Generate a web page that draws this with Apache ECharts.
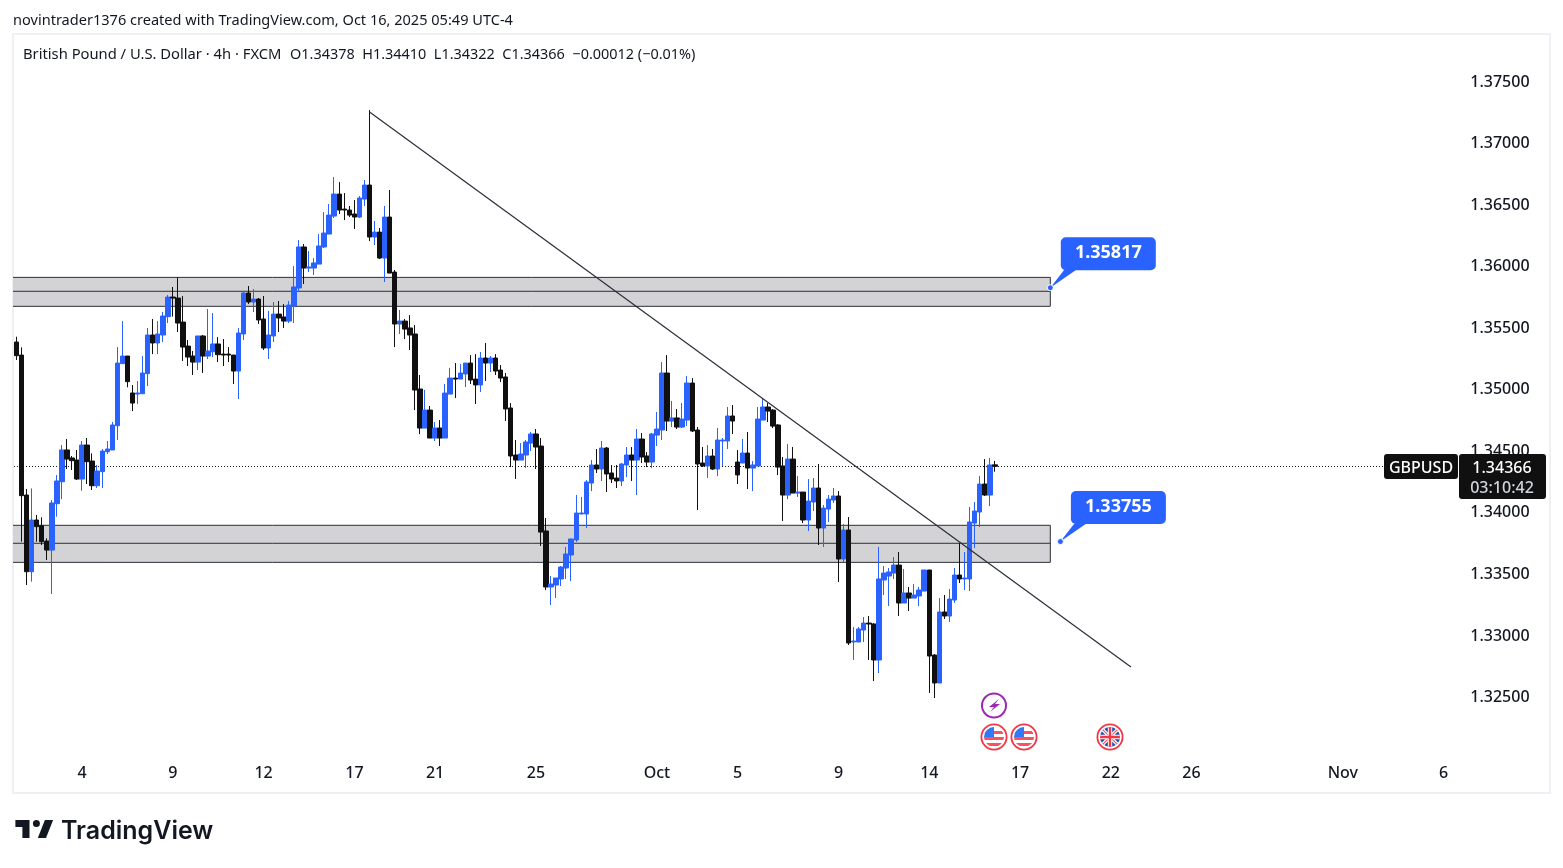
<!DOCTYPE html>
<html lang="en">
<head>
<meta charset="utf-8">
<title>GBPUSD 4h</title>
<script src="https://cdn.jsdelivr.net/npm/echarts@6/dist/echarts.min.js"></script>
<style>
html, body { margin: 0; padding: 0; background: #fff; }
#chart { width: 1563px; height: 868px; }
</style>
</head>
<body>
<div id="chart"></div>
<script>
// 4h candles
var opens = [
1.35376,1.35270,1.34133,1.33510,1.33930,1.33884,1.33759,1.33686,1.34063,1.34241,
1.34499,1.34434,1.34417,1.34263,1.34539,1.34409,1.34209,1.34323,1.34485,1.34499,
1.34696,1.35200,1.35262,1.34962,1.34953,1.34956,1.35119,1.35433,1.35368,1.35433,
1.35582,1.35741,1.35733,1.35538,1.35343,1.35262,1.35213,1.35425,1.35262,1.35297,
1.35360,1.35278,1.35278,1.35270,1.35140,1.35441,1.35774,1.35701,1.35725,1.35563,
1.35327,1.35425,1.35603,1.35579,1.35546,1.35668,1.35815,1.36148,1.35977,1.35977,
1.36009,1.36148,1.36253,1.36399,1.36578,1.36456,1.36448,1.36416,1.36391,1.36537,
1.36651,1.36229,1.36269,1.36058,1.36391,1.35944,1.35522,1.35546,1.35490,1.35441,
1.34994,1.34677,1.34823,1.34596,1.34677,1.34596,1.34953,1.35083,1.35075,1.35116,
1.35205,1.35075,1.35027,1.35246,1.35205,1.35246,1.35148,1.35092,1.34840,1.34458,
1.34417,1.34458,1.34555,1.34629,1.34531,1.33841,1.33386,1.33402,1.33451,1.33540,
1.33646,1.33768,1.33979,1.33979,1.34230,1.34377,1.34344,1.34515,1.34312,1.34271,
1.34247,1.34377,1.34458,1.34417,1.34588,1.34450,1.34401,1.34620,1.34661,1.35124,
1.34734,1.34759,1.34685,1.34742,1.35043,1.34661,1.34393,1.34369,1.34450,1.34344,
1.34572,1.34572,1.34775,1.34401,1.34393,1.34474,1.34352,1.34369,1.34742,1.34848,
1.34823,1.34702,1.34369,1.34133,1.34425,1.34149,1.34157,1.33930,1.34076,1.34190,
1.33865,1.34019,1.34092,1.34125,1.33613,1.33849,1.32939,1.32939,1.33036,1.33093,
1.33085,1.32793,1.33443,1.33475,1.33499,1.33564,1.33256,1.33337,1.33296,1.33313,
1.33353,1.33524,1.32833,1.32606,1.33183,1.33150,1.33280,1.33483,1.33451,1.33451,
1.33905,1.33995,1.34222,1.34133,1.34378];
var closes = [
1.35265,1.34128,1.33510,1.33930,1.33876,1.33754,1.33686,1.34068,1.34247,1.34499,
1.34425,1.34412,1.34263,1.34539,1.34404,1.34209,1.34328,1.34490,1.34507,1.34702,
1.35205,1.35262,1.35054,1.34880,1.34962,1.35124,1.35433,1.35368,1.35441,1.35587,
1.35741,1.35733,1.35530,1.35335,1.35254,1.35213,1.35425,1.35262,1.35303,1.35360,
1.35273,1.35270,1.35270,1.35140,1.35449,1.35774,1.35701,1.35725,1.35555,1.35327,
1.35433,1.35603,1.35571,1.35546,1.35676,1.35823,1.36148,1.35977,1.35985,1.36018,
1.36156,1.36261,1.36407,1.36578,1.36448,1.36448,1.36407,1.36391,1.36546,1.36651,
1.36229,1.36269,1.36058,1.36391,1.35936,1.35522,1.35546,1.35481,1.35433,1.34986,
1.34677,1.34823,1.34596,1.34677,1.34596,1.34961,1.35083,1.35075,1.35124,1.35205,
1.35067,1.35027,1.35246,1.35205,1.35246,1.35140,1.35083,1.34832,1.34450,1.34417,
1.34466,1.34564,1.34629,1.34523,1.33832,1.33386,1.33410,1.33459,1.33548,1.33654,
1.33776,1.33987,1.33987,1.34239,1.34377,1.34344,1.34515,1.34304,1.34263,1.34247,
1.34385,1.34458,1.34417,1.34588,1.34442,1.34401,1.34629,1.34669,1.35124,1.34734,
1.34759,1.34685,1.34750,1.35043,1.34653,1.34385,1.34369,1.34450,1.34344,1.34580,
1.34580,1.34775,1.34734,1.34296,1.34474,1.34352,1.34377,1.34750,1.34848,1.34815,
1.34693,1.34360,1.34133,1.34425,1.34149,1.34157,1.33930,1.34084,1.34190,1.33865,
1.34027,1.34100,1.34125,1.33613,1.33849,1.32931,1.32947,1.33045,1.33093,1.33085,
1.32793,1.33451,1.33499,1.33508,1.33564,1.33256,1.33337,1.33296,1.33321,1.33361,
1.33524,1.32825,1.32606,1.33183,1.33150,1.33288,1.33483,1.33451,1.33459,1.33914,
1.34003,1.34222,1.34133,1.34377,1.34366];
var lows = [
1.35230,1.33754,1.33402,1.33429,1.33754,1.33727,1.33605,1.33329,1.33957,1.34100,
1.34344,1.34336,1.34255,1.34168,1.34222,1.34174,1.34190,1.34190,1.34466,1.34499,
1.34580,1.35200,1.35008,1.34815,1.34872,1.34953,1.35018,1.35278,1.35278,1.35376,
1.35530,1.35582,1.35457,1.35222,1.35181,1.35108,1.35148,1.35124,1.35238,1.35254,
1.35213,1.35181,1.35213,1.35035,1.34913,1.35392,1.35685,1.35620,1.35522,1.35311,
1.35238,1.35376,1.35457,1.35490,1.35530,1.35530,1.35782,1.35847,1.35944,1.35920,
1.36009,1.36139,1.36253,1.36383,1.36416,1.36367,1.36391,1.36294,1.36383,1.36481,
1.36196,1.36164,1.36050,1.35863,1.35936,1.35335,1.35441,1.35400,1.35311,1.34823,
1.34628,1.34677,1.34596,1.34572,1.34531,1.34596,1.34953,1.34921,1.35075,1.35010,
1.35035,1.34872,1.34970,1.35059,1.35132,1.35108,1.35051,1.34734,1.34360,1.34263,
1.34417,1.34352,1.34490,1.34344,1.33719,1.33361,1.33240,1.33296,1.33394,1.33451,
1.33434,1.33751,1.33979,1.33865,1.34165,1.34312,1.34247,1.34157,1.34230,1.34190,
1.34206,1.34279,1.34247,1.34133,1.34393,1.34360,1.34352,1.34531,1.34580,1.34653,
1.34685,1.34669,1.34677,1.34694,1.34645,1.34011,1.34360,1.34271,1.34336,1.34287,
1.34369,1.34507,1.34629,1.34222,1.34393,1.34182,1.34165,1.34369,1.34742,1.34726,
1.34677,1.34295,1.33922,1.34100,1.34149,1.34117,1.33905,1.33841,1.34003,1.33727,
1.33711,1.33914,1.34068,1.33426,1.33589,1.32915,1.32793,1.32939,1.32939,1.32793,
1.32622,1.32687,1.33321,1.33231,1.33451,1.33150,1.33256,1.33191,1.33296,1.33231,
1.33353,1.32525,1.32484,1.32606,1.33126,1.33101,1.33256,1.33418,1.33361,1.33353,
1.33702,1.33873,1.34125,1.34044,1.34322];
var highs = [
1.35419,1.35333,1.34182,1.34187,1.33971,1.33952,1.33781,1.34092,1.34295,1.34539,
1.34588,1.34450,1.34499,1.34572,1.34596,1.34471,1.34377,1.34507,1.34572,1.34726,
1.35335,1.35546,1.35262,1.35027,1.35059,1.35262,1.35490,1.35563,1.35546,1.35620,
1.35758,1.35823,1.35901,1.35749,1.35392,1.35303,1.35425,1.35433,1.35644,1.35611,
1.35416,1.35400,1.35335,1.35270,1.35490,1.35790,1.35831,1.35806,1.35733,1.35750,
1.35628,1.35701,1.35709,1.35684,1.35709,1.35993,1.36204,1.36172,1.36115,1.36058,
1.36253,1.36432,1.36497,1.36716,1.36675,1.36586,1.36481,1.36529,1.36562,1.36692,
1.37260,1.36359,1.36302,1.36481,1.36611,1.35961,1.35636,1.35563,1.35595,1.35514,
1.35108,1.34986,1.34856,1.34726,1.34742,1.35035,1.35165,1.35205,1.35197,1.35205,
1.35270,1.35278,1.35295,1.35368,1.35262,1.35278,1.35189,1.35124,1.34880,1.34580,
1.34555,1.34580,1.34645,1.34669,1.34596,1.33946,1.33475,1.33459,1.33556,1.33711,
1.33776,1.34133,1.34117,1.34255,1.34417,1.34507,1.34572,1.34523,1.34377,1.34377,
1.34393,1.34523,1.34523,1.34669,1.34637,1.34482,1.34637,1.34807,1.35213,1.35270,
1.34897,1.34832,1.34880,1.35100,1.35083,1.34685,1.34523,1.34539,1.34507,1.34677,
1.34596,1.34848,1.34864,1.34499,1.34588,1.34645,1.34409,1.34848,1.34913,1.34880,
1.34832,1.34710,1.34442,1.34547,1.34523,1.34287,1.34157,1.34263,1.34271,1.34385,
1.34052,1.34133,1.34190,1.34165,1.33897,1.33954,1.33061,1.33061,1.33142,1.33150,
1.33093,1.33711,1.33556,1.33540,1.33629,1.33670,1.33532,1.33386,1.33410,1.33386,
1.33524,1.33524,1.32841,1.33296,1.33321,1.33369,1.33540,1.33743,1.33670,1.34036,
1.34076,1.34287,1.34425,1.34434,1.34410];

// x axis: bar slots, with the date labels at their bar positions
var barSlots = 287;
var tickBars = [13, 31, 49, 67, 83, 103, 127, 143, 163, 181, 199, 217, 233, 263, 283];
var tickLabels = ['4', '9', '12', '17', '21', '25', 'Oct', '5', '9', '14', '17', '22', '26', 'Nov', '6'];

var lastPrice = 1.34366;

// drawn on the chart
var zoneTops = [1.35901, 1.33887];
var zoneMids = [1.35788, 1.33741];
var zoneBottoms = [1.35666, 1.33586];
var zoneEndBar = 205;

var trendBars = [70, 221];
var trendPrices = [1.37244, 1.32736];

var calloutBars = [205, 207];
var calloutPrices = [1.35817, 1.33755];
var calloutTexts = ['1.35817', '1.33755'];

var BLUE = '#2962ff';
var BLACK = '#101010';
var TEXT = '#131722';
var FONT = '"Noto Sans", sans-serif';

var categories = [];
for (var i = 0; i < barSlots; i++) {
    var t = tickBars.indexOf(i);
    categories.push(t >= 0 ? tickLabels[t] : '');
}

var candles = opens.map(function (o, i) {
    return [o, closes[i], lows[i], highs[i]];
});

function usFlag() {
    return 'data:image/svg+xml,' + encodeURIComponent(
        '<svg xmlns="http://www.w3.org/2000/svg" width="56" height="56" viewBox="0 0 28 28">' +
        '<defs><clipPath id="c"><circle cx="14" cy="14" r="10"/></clipPath></defs>' +
        '<circle cx="14" cy="14" r="12.6" fill="#fff" stroke="#f23645" stroke-width="1.8"/>' +
        '<g clip-path="url(#c)"><rect x="2" y="2" width="24" height="24" fill="#fff"/>' +
        '<rect x="2" y="8" width="24" height="3" fill="#f7525f"/>' +
        '<rect x="2" y="14" width="24" height="3" fill="#f7525f"/>' +
        '<rect x="2" y="20" width="24" height="3" fill="#f7525f"/>' +
        '<rect x="2" y="2" width="12" height="12" fill="#3179f5"/></g></svg>');
}

function ukFlag() {
    return 'data:image/svg+xml,' + encodeURIComponent(
        '<svg xmlns="http://www.w3.org/2000/svg" width="56" height="56" viewBox="0 0 28 28">' +
        '<defs><clipPath id="c"><circle cx="14" cy="14" r="10"/></clipPath></defs>' +
        '<circle cx="14" cy="14" r="12.6" fill="#fff" stroke="#f23645" stroke-width="1.8"/>' +
        '<g clip-path="url(#c)"><rect x="2" y="2" width="24" height="24" fill="#1e53a8"/>' +
        '<path d="M3 3L25 25M25 3L3 25" stroke="#fff" stroke-width="3.4"/>' +
        '<path d="M3 3L25 25M25 3L3 25" stroke="#f7525f" stroke-width="1.2"/>' +
        '<path d="M14 2V26M2 14H26" stroke="#fff" stroke-width="4.4"/>' +
        '<path d="M14 2V26M2 14H26" stroke="#f23645" stroke-width="2.4"/></g></svg>');
}

function icon(src, cx, cy) {
    return { type: 'image', z: 90, style: { image: src, x: cx - 14, y: cy - 14, width: 28, height: 28 } };
}

function label(x, y, text, font, fill, align) {
    return {
        type: 'text', z: 110, x: x, y: y,
        style: { text: text, font: font, fill: fill, align: align || 'left', verticalAlign: 'middle' }
    };
}

var chart = echarts.init(document.getElementById('chart'));

chart.setOption({
    animation: false,
    backgroundColor: '#fff',
    grid: { left: 14, top: 19, width: 1447.3, height: 738.6, containLabel: false },
    xAxis: {
        type: 'category',
        data: categories,
        boundaryGap: true,
        axisLine: { show: false },
        axisTick: { show: false },
        splitLine: { show: false },
        axisLabel: {
            interval: 0,
            hideOverlap: false,
            margin: 6,
            color: TEXT,
            fontFamily: FONT,
            fontSize: 16,
            fontWeight: 500,
            lineHeight: 20
        }
    },
    yAxis: {
        type: 'value',
        position: 'right',
        min: 1.32,
        max: 1.38,
        interval: 0.005,
        axisLine: { show: false },
        axisTick: { show: false },
        splitLine: { show: false },
        axisLabel: {
            margin: 9,
            showMinLabel: false,
            showMaxLabel: false,
            formatter: function (v) { return '{p|' + v.toFixed(5) + '}'; },
            rich: {
                p: {
                    padding: [3, 0, 0, 0],
                    color: TEXT,
                    fontFamily: FONT,
                    fontSize: 16,
                    fontWeight: 500
                }
            }
        }
    },
    series: [
        {
            name: 'zones',
            type: 'custom',
            z: 1,
            silent: true,
            clip: false,
            encode: { x: 0, y: 1 },
            data: zoneTops.map(function (top, i) {
                return [zoneEndBar, top, zoneMids[i], zoneBottoms[i]];
            }),
            renderItem: function (params, api) {
                var right = api.coord([api.value(0), api.value(1)])[0];
                var left = params.coordSys.x - 1;
                var top = api.coord([0, api.value(1)])[1];
                var mid = api.coord([0, api.value(2)])[1];
                var bottom = api.coord([0, api.value(3)])[1];
                var line = { stroke: '#2a2e39', lineWidth: 1 };
                return {
                    type: 'group',
                    children: [
                        { type: 'rect', shape: { x: left, y: top, width: right - left, height: bottom - top },
                          style: { fill: '#d3d3d6' } },
                        { type: 'line', shape: { x1: left, y1: top, x2: right, y2: top }, style: line },
                        { type: 'line', shape: { x1: left, y1: mid, x2: right, y2: mid }, style: line },
                        { type: 'line', shape: { x1: left, y1: bottom, x2: right, y2: bottom }, style: line },
                        { type: 'line', shape: { x1: right, y1: top, x2: right, y2: bottom }, style: line }
                    ]
                };
            }
        },
        {
            name: 'last',
            type: 'custom',
            z: 1,
            silent: true,
            clip: false,
            encode: { x: 0, y: 1 },
            data: [[0, lastPrice]],
            renderItem: function (params, api) {
                // snap to a pixel row so the dots stay crisp
                var y = Math.floor(api.coord([0, api.value(1)])[1]) + 0.5;
                var grid = params.coordSys;
                return { type: 'line', shape: { x1: grid.x, y1: y, x2: grid.x + grid.width, y2: y },
                         style: { stroke: '#131722', lineWidth: 1, lineDash: [1, 2] } };
            }
        },
        {
            name: 'GBPUSD',
            type: 'candlestick',
            z: 2,
            barWidth: 5,
            silent: true,
            itemStyle: {
                color: BLUE,
                color0: BLACK,
                borderColor: BLUE,
                borderColor0: BLACK,
                borderWidth: 1
            },
            data: candles
        },
        {
            name: 'trend',
            type: 'line',
            z: 3,
            silent: true,
            symbol: 'none',
            lineStyle: { color: '#2a2e39', width: 1.2 },
            data: trendBars.map(function (b, i) { return [b, trendPrices[i]]; })
        },
        {
            name: 'callouts',
            type: 'custom',
            z: 4,
            silent: true,
            clip: false,
            encode: { x: 0, y: 1 },
            data: calloutBars.map(function (b, i) { return [b, calloutPrices[i]]; }),
            renderItem: function (params, api) {
                var p = api.coord([api.value(0), api.value(1)]);
                var x = p[0], y = p[1];
                return {
                    type: 'group',
                    children: [
                        { type: 'polygon', shape: { points: [[x, y], [x + 14, y - 18], [x + 26, y - 18]] },
                          style: { fill: BLUE } },
                        { type: 'rect', shape: { x: x + 10.5, y: y - 50.5, width: 95, height: 33, r: 5 },
                          style: { fill: BLUE } },
                        { type: 'circle', shape: { cx: x, cy: y, r: 3 },
                          style: { fill: BLUE, stroke: '#fff', lineWidth: 1 } },
                        { type: 'text', x: x + 58, y: y - 34.5,
                          style: { text: calloutTexts[params.dataIndex], fill: '#fff', align: 'center', verticalAlign: 'middle',
                                   font: '700 18px ' + FONT } }
                    ]
                };
            }
        }
    ],
    graphic: [
        { type: 'rect', z: 0, shape: { x: 13, y: 34, width: 1537, height: 759 },
          style: { fill: 'none', stroke: '#eef0f4', lineWidth: 2 } },
        label(13, 21, 'novintrader1376 created with TradingView.com, Oct 16, 2025 05:49 UTC-4', '14.55px ' + FONT, TEXT),
        label(23, 55, 'British Pound / U.S. Dollar \u00b7 4h \u00b7 FXCM', '14.75px ' + FONT, TEXT),
        label(290, 55, 'O1.34378  H1.34410  L1.34322  C1.34366  \u22120.00012 (\u22120.01%)', '14.45px ' + FONT, TEXT),

        // last price tags
        { type: 'rect', z: 100, shape: { x: 1384, y: 454, width: 74, height: 25, r: 3 }, style: { fill: BLACK } },
        { type: 'rect', z: 100, shape: { x: 1459, y: 454, width: 87, height: 45, r: 3 }, style: { fill: BLACK } },
        label(1421, 468, 'GBPUSD', '500 16px ' + FONT, '#fff', 'center'),
        label(1502, 468, '1.34366', '500 16px ' + FONT, '#fff', 'center'),
        label(1502, 488, '03:10:42', '500 16px ' + FONT, '#d1d4dc', 'center'),

        // event icons
        { type: 'circle', z: 90, shape: { cx: 994, cy: 705.5, r: 12 },
          style: { fill: '#fff', stroke: '#9c27b0', lineWidth: 2 } },
        { type: 'polygon', z: 91, shape: { points: [[999, 699], [989, 707], [994, 707], [990, 712], [1000, 704], [995, 704]] },
          style: { fill: '#9c27b0' } },
        icon(usFlag(), 994, 737),
        icon(usFlag(), 1024, 737),
        icon(ukFlag(), 1110, 737),

        // TradingView logo
        { type: 'polygon', z: 90, shape: { points: [[15.4, 820], [29.5, 820], [29.5, 838], [22.4, 838], [22.4, 827], [15.4, 827]] },
          style: { fill: '#131722' } },
        { type: 'circle', z: 90, shape: { cx: 36.4, cy: 823.6, r: 3.5 }, style: { fill: '#131722' } },
        { type: 'polygon', z: 90, shape: { points: [[46, 838], [37.8, 838], [44.9, 820], [53.1, 820]] },
          style: { fill: '#131722' } },
        label(61, 831, 'TradingView', '600 25px Inter, ' + FONT, '#131722')
    ]
});
</script>
</body>
</html>
